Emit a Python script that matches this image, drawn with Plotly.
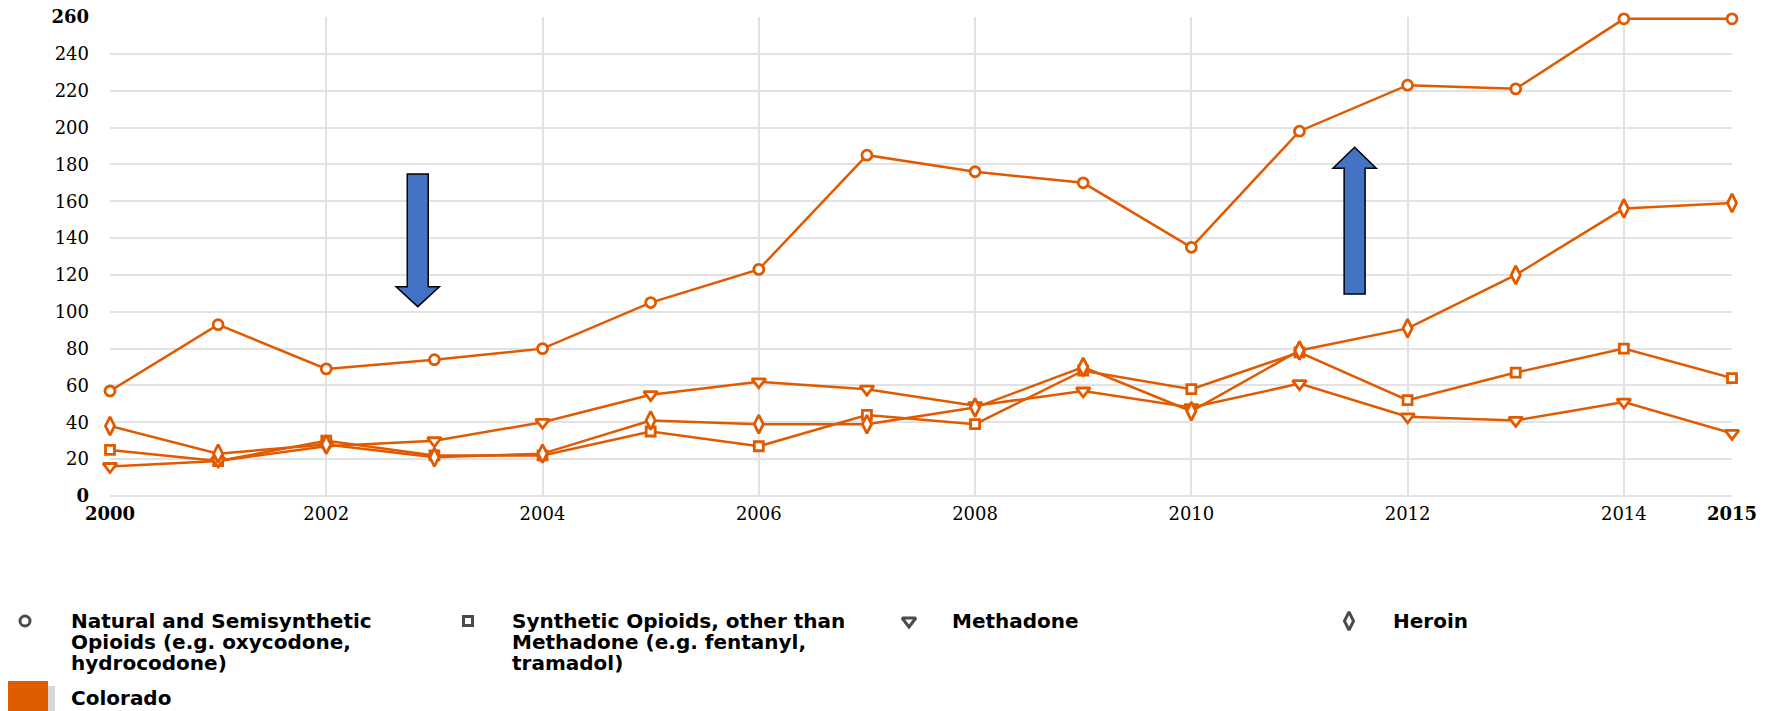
import plotly.graph_objects as go

# Opioid overdose deaths by drug type, Colorado, 2000-2015
years = list(range(2000, 2016))
natural_semisynthetic = [57, 93, 69, 74, 80, 105, 123, 185, 176, 170, 135, 198, 223, 221, 259, 259]
synthetic_other = [25, 19, 30, 22, 22, 35, 27, 44, 39, 68, 58, 78, 52, 67, 80, 64]
methadone = [16, 19, 27, 30, 40, 55, 62, 58, 49, 57, 48, 61, 43, 41, 51, 34]
heroin = [38, 23, 28, 21, 23, 41, 39, 39, 48, 70, 46, 79, 91, 120, 156, 159]

y_ticks = list(range(0, 261, 20))
y_ticktext = ["<b>0</b>"] + [str(v) for v in y_ticks[1:-1]] + ["<b>260</b>"]
x_ticks = list(range(2000, 2015, 2))
x_ticktext = ["<b>2000</b>"] + [str(v) for v in x_ticks[1:]]

W, H = 1778, 711
ORANGE = "#E15A00"
GRID = "#e2e2e2"
AXIS_FONT = dict(family="DejaVu Serif", size=18, color="black")
LEGEND_FONT = dict(family="DejaVu Sans", size=20, color="black")


def fx(px):
    return px / W


def fy(py):
    return 1 - py / H


series = [
    ("Natural and Semisynthetic Opioids", natural_semisynthetic, "circle", 10),
    ("Synthetic Opioids, other than Methadone", synthetic_other, "square", 9),
    ("Methadone", methadone, "triangle-down", 12),
    ("Heroin", heroin, "diamond-tall", 13),
]

fig = go.Figure()
for name, vals, sym, size in series:
    fig.add_trace(go.Scatter(
        x=years, y=vals, name=name, mode="lines+markers",
        line=dict(color=ORANGE, width=2.5),
        marker=dict(symbol=sym, size=size, color="white",
                    line=dict(color=ORANGE, width=2.8)),
        cliponaxis=False, showlegend=False, xaxis="x", yaxis="y",
    ))

# empty trace so the secondary bottom axis (final-year label) is rendered
fig.add_trace(go.Scatter(x=[2015], y=[None], xaxis="x3", yaxis="y",
                         showlegend=False, hoverinfo="skip", mode="markers"))

# Legend glyphs, placed on a full-figure pixel axis
legend_entries = [
    (25, "circle", 10, 70, ["Natural and Semisynthetic", "Opioids (e.g. oxycodone,", "hydrocodone)"]),
    (468, "square", 9, 511, ["Synthetic Opioids, other than", "Methadone (e.g. fentanyl,", "tramadol)"]),
    (909, "triangle-down", 12, 951, ["Methadone"]),
    (1349, "diamond-tall", 13, 1392, ["Heroin"]),
]
LEGEND_Y = 621
LINE_STEP = 21

fig.add_trace(go.Scatter(
    x=[e[0] for e in legend_entries], y=[LEGEND_Y] * len(legend_entries),
    mode="markers", xaxis="x2", yaxis="y2", showlegend=False, hoverinfo="skip",
    marker=dict(symbol=[e[1] for e in legend_entries], size=[e[2] for e in legend_entries],
                color="white", line=dict(color="black", width=3)),
    cliponaxis=False,
))

annotations = []
for _, _, _, tx, lines in legend_entries:
    for i, line in enumerate(lines):
        annotations.append(dict(
            x=fx(tx), y=fy(LEGEND_Y + i * LINE_STEP), xref="paper", yref="paper",
            xanchor="left", yanchor="middle", text=f"<b>{line}</b>",
            showarrow=False, font=LEGEND_FONT, borderpad=0,
        ))
annotations.append(dict(
    x=fx(70), y=fy(698), xref="paper", yref="paper", xanchor="left", yanchor="middle",
    text="<b>Colorado</b>", showarrow=False, font=LEGEND_FONT, borderpad=0,
))

shapes = [
    # Colorado swatch with its soft shadow
    dict(type="rect", xref="paper", yref="paper", x0=fx(48), x1=fx(55), y0=fy(686), y1=fy(711),
         fillcolor="#d8d8d8", line=dict(width=0), layer="above"),
    dict(type="rect", xref="paper", yref="paper", x0=fx(8), x1=fx(48), y0=fy(681), y1=fy(711),
         fillcolor="#E05C00", line=dict(width=0), layer="above"),
]


def block_arrow(xc, y_tail, y_head_base, y_tip, shaft_half=0.097, head_half=0.2):
    pts = [
        (xc - shaft_half, y_tail), (xc + shaft_half, y_tail),
        (xc + shaft_half, y_head_base), (xc + head_half, y_head_base),
        (xc, y_tip), (xc - head_half, y_head_base), (xc - shaft_half, y_head_base),
    ]
    return "M " + " L ".join(f"{x:.4f},{y:.2f}" for x, y in pts) + " Z"


for path in (block_arrow(2002.846, 174.8, 113.6, 102.8),
             block_arrow(2011.51, 109.7, 177.9, 189.3)):
    shapes.append(dict(type="path", xref="x", yref="y", path=path,
                       fillcolor="#4472C4", line=dict(color="black", width=1.5),
                       layer="above"))

x_dom = [fx(110), fx(1732)]
y_dom = [fy(496), fy(17)]

fig.update_layout(
    width=W, height=H, autosize=False,
    margin=dict(l=0, r=0, t=0, b=0, autoexpand=False),
    paper_bgcolor="white", plot_bgcolor="rgba(0,0,0,0)",
    showlegend=False,
    xaxis=dict(domain=x_dom, range=[2000, 2015], anchor="y", automargin=False,
               tickmode="array", tickvals=x_ticks, ticktext=x_ticktext,
               showgrid=True, gridcolor=GRID, gridwidth=1.5,
               zeroline=False, showline=False, ticks="",
               tickfont=AXIS_FONT, ticklabelstandoff=5),
    xaxis3=dict(domain=x_dom, range=[2000, 2015], anchor="y", overlaying="x",
                automargin=False,
                tickmode="array", tickvals=[2015], ticktext=["<b>2015</b>"],
                showgrid=False, zeroline=False, showline=False, ticks="",
                side="bottom", tickfont=AXIS_FONT, ticklabelstandoff=5),
    yaxis=dict(domain=y_dom, range=[0, 260], anchor="x", automargin=False,
               tickmode="array", tickvals=y_ticks, ticktext=y_ticktext,
               showgrid=True, gridcolor=GRID, gridwidth=1.5,
               zeroline=True, zerolinecolor=GRID, zerolinewidth=1.5,
               showline=False, ticks="", tickfont=AXIS_FONT, ticklabelstandoff=20),
    xaxis2=dict(domain=[0, 1], range=[0, W], anchor="y2", visible=False,
                fixedrange=True, automargin=False),
    yaxis2=dict(domain=[0, 1], range=[H, 0], anchor="x2", visible=False,
                fixedrange=True, automargin=False),
    annotations=annotations,
    shapes=shapes,
)

fig.write_html("out.html")
